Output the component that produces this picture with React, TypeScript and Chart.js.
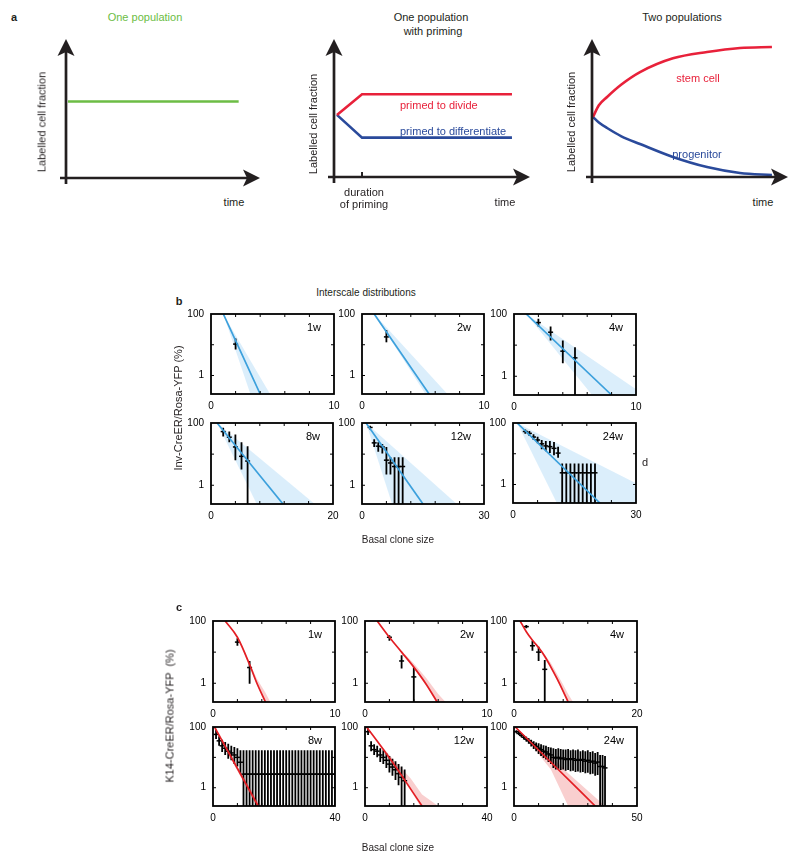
import React, { useEffect, useRef } from "react";
import { Chart, registerables } from "chart.js";

Chart.register(...registerables);

const FONT = '"Liberation Sans", Arial, Helvetica, sans-serif';
const INK = "#231f20";

// ---------- Panel a (schematics) ----------
const A1_ONE_POPULATION = [[0.1, 5.5], [8.9, 5.5]];
const A2_PRIMED_DIVIDE = [[0.15, 4.5], [1.43, 6.0], [9.08, 6.0]];
const A2_PRIMED_DIFFERENTIATE = [[0.15, 4.5], [1.43, 2.85], [9.08, 2.85]];
const A2_PRIMING_END = 1.43;
const A3_STEM_CELL = [[0.05, 4.35], [0.35, 5.2], [0.77, 5.8], [1.5, 6.7], [2.45, 7.6], [4.13, 8.6], [5.87, 9.06], [7.55, 9.35], [9.18, 9.42]];
const A3_PROGENITOR = [[0.05, 4.35], [0.35, 3.95], [0.77, 3.55], [1.5, 2.95], [2.45, 2.39], [4.13, 1.45], [5.87, 0.72], [7.55, 0.29], [9.18, 0.14]];

// ---------- Panel b: Inv-CreER/Rosa-YFP (x = clone size, y = %) ----------
// points: [clone size, value, lower, upper]; band: [clone size, lower, upper]
const B1W_LINE = [[1, 100], [4, 0.25]];
const B1W_BAND = [[1, 100, 100], [3.2, 0.25, 3.1], [4.8, 0.01, 0.25]];
const B1W_POINTS = [[2, 10.5, 7, 16]];

const B2W_LINE = [[1, 100], [5.5, 0.25]];
const B2W_BAND = [[1, 100, 100], [5.2, 0.25, 1.5], [7, 0.01, 0.25]];
const B2W_POINTS = [[2, 18, 12, 30]];

const B4W_LINE = [[1, 100], [8, 0.25]];
const B4W_BAND = [[1, 100, 100], [6.4, 0.25, 3.5], [10, 0.01, 0.38]];
const B4W_POINTS = [[2, 53, 40, 70], [3, 26, 14, 40], [4, 6.4, 2.6, 14], [5, 3.9, 0.01, 8.5]];

const B8W_LINE = [[1, 100], [11.8, 0.25]];
const B8W_BAND = [[1, 100, 100], [7.5, 0.25, 8.8], [17, 0.01, 0.25]];
const B8W_POINTS = [[2, 53, 37, 70], [3, 35, 24, 53], [4, 17, 6.4, 43], [5, 8.5, 3.2, 24], [6, 6, 0.01, 18]];

const B12W_LINE = [[1, 100], [15, 0.25]];
const B12W_BAND = [[1, 100, 100], [7.4, 0.25, 18], [23.3, 0.01, 0.25]];
const B12W_POINTS = [
  [2, 72, 62, 82], [3, 23, 17, 30], [4, 18, 12, 24], [5, 17, 10.5, 21], [6, 6.4, 2.2, 17],
  [7, 5.2, 2.2, 8], [8, 4, 0.01, 7.9], [9, 4, 0.01, 7.9], [10, 4, 0.01, 7.9],
];

const B24W_LINE = [[1, 100], [21.2, 0.25]];
const B24W_BAND = [[1, 100, 100], [10.7, 0.25, 22], [30, 0.01, 1.1]];
const B24W_POINTS = [
  [3, 53, 45, 62], [4, 46, 38, 55], [5, 35, 28, 43], [6, 28, 22, 36], [7, 21, 14, 28],
  [8, 18, 12, 26], [9, 17, 10.5, 26], [10, 15, 9, 24], [11, 10.5, 7.4, 17],
  [12, 2.4, 0.01, 4.8], [13, 2.4, 0.01, 4.8], [14, 2.4, 0.01, 4.8], [15, 2.4, 0.01, 4.8],
  [16, 2.4, 0.01, 4.8], [17, 2.4, 0.01, 4.8], [18, 2.4, 0.01, 4.8], [19, 2.4, 0.01, 4.8],
  [20, 2.4, 0.01, 4.8],
];

// ---------- Panel c: K14-CreER/Rosa-YFP ----------
const C1W_LINE = [[1, 100], [2, 30], [3, 4], [3.6, 1], [4.3, 0.25]];
const C1W_BAND = [[2.5, 10, 12], [3.6, 0.9, 1.4], [4.3, 0.25, 0.5], [4.7, 0.02, 0.25]];
const C1W_POINTS = [[2, 21, 16, 28], [3, 3.2, 0.96, 5.2]];

const C2W_LINE = [[1, 100], [2, 30], [3, 10], [4, 3.3], [5, 0.95], [6, 0.22]];
const C2W_BAND = [[3, 9.5, 11], [4, 3.1, 4.3], [5, 0.9, 1.5], [6, 0.2, 0.45], [6.6, 0.02, 0.25]];
const C2W_POINTS = [[2, 30, 23, 35], [3, 5.2, 3, 8], [4, 1.6, 0.01, 3.2]];

const C4W_LINE = [[1, 100], [2, 45], [3, 24], [4, 14], [5, 7.4], [6, 3.3], [7, 1.4], [8, 0.55], [8.8, 0.25]];
const C4W_BAND = [[4, 13, 15], [6, 3, 4.5], [8, 0.5, 0.9], [8.8, 0.22, 0.45], [9.6, 0.02, 0.25]];
const C4W_POINTS = [[2, 66, 58, 75], [3, 16, 11, 23], [4, 10, 5.2, 15], [5, 2.8, 0.01, 5.6]];

const C8W_LINE = [[0.5, 100], [14.8, 0.25]];
const C8W_BAND = [[5, 13, 16], [14.8, 0.2, 0.35], [16, 0.02, 0.25]];
const C8W_POINTS = [
  [1, 57, 40, 80], [2, 35, 24, 50], [3, 24, 15, 38], [4, 20, 12, 32], [5, 16, 9, 28],
  [6, 14, 8, 24], [7, 12, 6, 22], [8, 10, 5, 20], [9, 6.9, 3, 17],
  [10, 2.8, 0.01, 17], [11, 2.8, 0.01, 17], [12, 2.8, 0.01, 17], [13, 2.8, 0.01, 17],
  [14, 2.8, 0.01, 17], [15, 2.8, 0.01, 17], [16, 2.8, 0.01, 17], [17, 2.8, 0.01, 17],
  [18, 2.8, 0.01, 17], [19, 2.8, 0.01, 17], [20, 2.8, 0.01, 17], [21, 2.8, 0.01, 17],
  [22, 2.8, 0.01, 17], [23, 2.8, 0.01, 17], [24, 2.8, 0.01, 17], [25, 2.8, 0.01, 17],
  [26, 2.8, 0.01, 17], [27, 2.8, 0.01, 17], [28, 2.8, 0.01, 17], [29, 2.8, 0.01, 17],
  [30, 2.8, 0.01, 17], [31, 2.8, 0.01, 17], [32, 2.8, 0.01, 17], [33, 2.8, 0.01, 17],
  [34, 2.8, 0.01, 17], [35, 2.8, 0.01, 17], [36, 2.8, 0.01, 17], [37, 2.8, 0.01, 17],
  [38, 2.8, 0.01, 17], [39, 2.8, 0.01, 17], [40, 2.8, 0.01, 17],
];

const C12W_LINE = [[0.5, 100], [5, 25], [10, 5], [15, 0.9], [18.7, 0.25]];
const C12W_BAND = [[5, 24, 27], [10, 4.5, 7], [15, 0.8, 2], [18.7, 0.2, 0.6], [24, 0.01, 0.25]];
const C12W_POINTS = [
  [1, 70, 55, 90], [2, 24, 16, 34], [3, 18, 12, 27], [4, 16, 10, 24], [5, 12, 7, 20],
  [6, 10, 6, 17], [7, 8, 4.5, 14], [8, 6, 3.2, 11], [9, 4.8, 2.5, 9], [10, 3.9, 1.8, 7.5],
  [11, 2.9, 1.2, 6], [12, 2.2, 0.01, 5], [13, 1.7, 0.01, 4],
];

const C24W_LINE = [[0.5, 100], [15, 6.9], [33, 0.25]];
const C24W_BAND = [[5, 40, 47], [15, 4, 11], [22, 0.25, 3], [37, 0.01, 0.25]];
const C24W_POINTS = [
  [1, 70, 62, 78], [2, 61, 54, 69], [3, 53, 46, 61], [4, 46, 39, 54], [5, 40, 33, 48],
  [6, 35, 28, 43], [7, 30, 23, 38], [8, 26, 19, 34], [9, 23, 16, 31], [10, 20, 13, 29],
  [11, 18, 11, 27], [12, 16, 9.5, 25], [13, 15, 8.5, 24], [14, 13, 7, 22], [15, 12, 6, 21],
  [16, 10, 4.5, 20], [17, 9.5, 4, 19], [18, 10, 4.2, 20], [19, 9, 3.8, 19], [20, 9.5, 4, 18],
  [21, 8.5, 3.6, 18], [22, 9, 3.8, 19], [23, 8.5, 3.5, 17], [24, 9, 3.6, 18], [25, 8, 3.3, 17],
  [26, 8.5, 3.4, 18], [27, 8, 3.2, 16], [28, 8.5, 3.3, 17], [29, 7.5, 3, 16], [30, 8, 3.1, 17],
  [31, 7, 2.8, 15], [32, 7.5, 2.9, 16], [33, 6.5, 2.5, 14], [34, 7, 2.6, 15],
  [35, 5, 0.01, 12], [36, 5, 0.01, 12], [37, 4.5, 0.01, 11],
];

const Y_MIN = 0.25;
const Y_MAX = 100;
const Y_TICKS = [1, 100];

const GREEN = "#6cbd45";
const RED_A = "#e8213a";
const BLUE_A = "#2a4a9b";
const B_LINE = "#3ca0dc";
const B_BAND = "rgba(170, 215, 245, 0.42)";
const C_LINE = "#e31e24";
const C_BAND = "rgba(240, 130, 130, 0.38)";

// ---------- plugins ----------
const boxPlugin = {
  id: "box",
  afterDatasetsDraw(chart: any, _args: any, opts: any) {
    const { ctx, chartArea: a, scales } = chart;
    ctx.save();
    ctx.strokeStyle = "#000";
    ctx.lineWidth = 1;
    ctx.beginPath();
    for (let v = opts.step; v < opts.xMax - 1e-9; v += opts.step) {
      const px = scales.x.getPixelForValue(v);
      ctx.moveTo(px, a.bottom);
      ctx.lineTo(px, a.bottom - 3);
      ctx.moveTo(px, a.top);
      ctx.lineTo(px, a.top + 3);
    }
    for (const v of [1, 10]) {
      const py = scales.y.getPixelForValue(v);
      ctx.moveTo(a.left, py);
      ctx.lineTo(a.left + 3, py);
      ctx.moveTo(a.right, py);
      ctx.lineTo(a.right - 3, py);
    }
    ctx.stroke();
    ctx.lineWidth = 1.8;
    ctx.strokeRect(a.left, a.top, a.right - a.left, a.bottom - a.top);
    ctx.fillStyle = "#000";
    ctx.font = `11px ${FONT}`;
    ctx.textAlign = "right";
    ctx.textBaseline = "middle";
    ctx.fillText(opts.label, a.right - 13, a.top + 14);
    ctx.restore();
  },
};

function arrowHead(ctx: CanvasRenderingContext2D, x: number, y: number, dir: "right" | "up") {
  ctx.beginPath();
  if (dir === "right") {
    ctx.moveTo(x, y);
    ctx.lineTo(x - 17, y - 8.5);
    ctx.lineTo(x - 13, y);
    ctx.lineTo(x - 17, y + 8.5);
  } else {
    ctx.moveTo(x, y);
    ctx.lineTo(x - 8.5, y + 17);
    ctx.lineTo(x, y + 13);
    ctx.lineTo(x + 8.5, y + 17);
  }
  ctx.closePath();
  ctx.fill();
}

const arrowsPlugin = {
  id: "arrows",
  afterDatasetsDraw(chart: any, _args: any, opts: any) {
    const { ctx, chartArea: a } = chart;
    ctx.save();
    ctx.strokeStyle = INK;
    ctx.fillStyle = INK;
    ctx.lineWidth = 2.7;
    ctx.beginPath();
    ctx.moveTo(a.left - 6, a.bottom);
    ctx.lineTo(a.right - 10, a.bottom);
    ctx.moveTo(a.left, a.bottom + 6);
    ctx.lineTo(a.left, a.top + 10);
    ctx.stroke();
    arrowHead(ctx, a.right, a.bottom, "right");
    arrowHead(ctx, a.left, a.top, "up");
    if (opts.markX != null) {
      const px = chart.scales.x.getPixelForValue(opts.markX);
      ctx.lineWidth = 2;
      ctx.beginPath();
      ctx.moveTo(px, a.bottom);
      ctx.lineTo(px, a.bottom - 5);
      ctx.stroke();
    }
    ctx.restore();
  },
};

const toXY = (arr: number[][]) => arr.map(([x, y]) => ({ x, y }));

// ---------- schematic plot ----------
function Schematic(props: {
  originX: number; originY: number; tipX: number; tipY: number;
  series: { data: number[][]; color: string }[]; markX?: number; curved?: boolean;
}) {
  const ref = useRef<HTMLCanvasElement>(null);
  const { originX, originY, tipX, tipY } = props;
  const W = tipX - originX + 50;
  const H = originY - tipY + 30;
  useEffect(() => {
    const chart = new Chart(ref.current!, {
      type: "line",
      data: {
        datasets: props.series.map((s) => ({
          data: toXY(s.data),
          borderColor: s.color,
          borderWidth: 2.6,
          pointRadius: 0,
          fill: false,
          tension: 0,
          cubicInterpolationMode: props.curved ? "monotone" : "default",
          borderJoinStyle: "miter",
        })),
      },
      options: {
        responsive: false,
        animation: false,
        events: [],
        layout: { padding: { left: 30, top: 15, right: 20, bottom: 15 } },
        plugins: {
          legend: { display: false },
          tooltip: { enabled: false },
          arrows: { markX: props.markX ?? null },
        } as any,
        scales: {
          x: { type: "linear", min: 0, max: 10, display: false },
          y: { type: "linear", min: 0, max: 10, display: false },
        },
      },
      plugins: [arrowsPlugin],
    } as any);
    return () => chart.destroy();
  }, []);
  return (
    <canvas
      ref={ref}
      width={W}
      height={H}
      style={{ position: "absolute", left: originX - 30, top: tipY - 15, width: W, height: H }}
    />
  );
}

// ---------- log plot ----------
function LogPlot(props: {
  box: number[]; xMax: number; label: string; line: number[][]; band: number[][];
  points: number[][]; lineColor: string; bandColor: string;
}) {
  const ref = useRef<HTMLCanvasElement>(null);
  const [l, r, t, b] = props.box;
  const W = r - l + 52;
  const H = b - t + 30;
  useEffect(() => {
    const bars: any[] = [];
    props.points.forEach(([x, , lo, hi]) => {
      bars.push({ x, y: lo }, { x, y: hi }, { x, y: null });
    });
    const xMax = props.xMax;
    const chart = new Chart(ref.current!, {
      type: "line",
      data: {
        datasets: [
          {
            data: toXY(props.line),
            borderColor: props.lineColor,
            borderWidth: 1.7,
            pointRadius: 0,
            fill: false,
            cubicInterpolationMode: "monotone",
          },
          {
            data: props.points.map(([x, y]) => ({ x, y })),
            showLine: false,
            pointStyle: "line",
            pointRadius: 2.5,
            pointBorderWidth: 1.5,
            pointBorderColor: "#000",
            pointBackgroundColor: "#000",
          },
          {
            data: bars,
            borderColor: "#000",
            borderWidth: 1.8,
            pointRadius: 0,
            spanGaps: false,
            fill: false,
          },
          {
            data: props.band.map(([x, , hi]) => ({ x, y: hi })),
            borderWidth: 0,
            borderColor: "rgba(0,0,0,0)",
            pointRadius: 0,
            fill: "+1",
            backgroundColor: props.bandColor,
          },
          {
            data: props.band.map(([x, lo]) => ({ x, y: lo })),
            borderWidth: 0,
            borderColor: "rgba(0,0,0,0)",
            pointRadius: 0,
            fill: false,
          },
        ],
      },
      options: {
        responsive: false,
        animation: false,
        events: [],
        layout: { padding: { left: 0, top: 8, right: 12, bottom: 0 } },
        plugins: {
          legend: { display: false },
          tooltip: { enabled: false },
          filler: { drawTime: "beforeDatasetsDraw" },
          box: { label: props.label, step: xMax / 5, xMax },
        } as any,
        scales: {
          x: {
            type: "linear",
            min: 0,
            max: xMax,
            grid: { display: false, drawTicks: false },
            border: { display: false },
            ticks: {
              color: "#000",
              font: { size: 10, family: FONT },
              padding: 6,
              maxRotation: 0,
              autoSkip: false,
              callback: (v: any) => String(v),
            },
            afterBuildTicks: (s: any) => {
              s.ticks = [{ value: 0 }, { value: xMax }];
            },
            afterFit: (s: any) => {
              s.height = 22;
            },
          },
          y: {
            type: "logarithmic",
            min: Y_MIN,
            max: Y_MAX,
            grid: { display: false, drawTicks: false },
            border: { display: false },
            ticks: {
              color: "#000",
              font: { size: 10, family: FONT },
              padding: 7,
              autoSkip: false,
              callback: (v: any) => (Y_TICKS.includes(v) ? String(v) : ""),
            },
            afterBuildTicks: (s: any) => {
              s.ticks = Y_TICKS.map((value) => ({ value }));
            },
            afterFit: (s: any) => {
              s.width = 40;
            },
          },
        },
      },
      plugins: [boxPlugin],
    } as any);
    return () => chart.destroy();
  }, []);
  return (
    <canvas
      ref={ref}
      width={W}
      height={H}
      style={{ position: "absolute", left: l - 40, top: t - 8, width: W, height: H }}
    />
  );
}

function Label(props: {
  x: number; y: number; text: string; color?: string; size?: number; bold?: boolean;
  rotate?: boolean; align?: "center" | "left";
}) {
  const { x, y, text, color = INK, size = 11, bold = false, rotate = false, align = "center" } = props;
  const transform =
    align === "center"
      ? `translate(-50%, -50%)${rotate ? " rotate(-90deg)" : ""}`
      : "translate(0, -50%)";
  return (
    <div
      style={{
        position: "absolute",
        left: x,
        top: y,
        transform,
        fontFamily: FONT,
        fontSize: size,
        fontWeight: bold ? "bold" : "normal",
        color,
        whiteSpace: "pre",
        lineHeight: 1,
      }}
    >
      {text}
    </div>
  );
}

const B_PLOTS = [
  { box: [211, 334, 309, 394], xMax: 10, label: "1w", line: B1W_LINE, band: B1W_BAND, points: B1W_POINTS },
  { box: [362, 484, 309, 394], xMax: 10, label: "2w", line: B2W_LINE, band: B2W_BAND, points: B2W_POINTS },
  { box: [514, 636, 309, 395], xMax: 10, label: "4w", line: B4W_LINE, band: B4W_BAND, points: B4W_POINTS },
  { box: [211, 333, 418, 504], xMax: 20, label: "8w", line: B8W_LINE, band: B8W_BAND, points: B8W_POINTS },
  { box: [362, 484, 418, 504], xMax: 30, label: "12w", line: B12W_LINE, band: B12W_BAND, points: B12W_POINTS },
  { box: [513, 636, 418, 503], xMax: 30, label: "24w", line: B24W_LINE, band: B24W_BAND, points: B24W_POINTS },
];

const C_PLOTS = [
  { box: [213, 335, 616, 702], xMax: 10, label: "1w", line: C1W_LINE, band: C1W_BAND, points: C1W_POINTS },
  { box: [365, 487, 616, 702], xMax: 10, label: "2w", line: C2W_LINE, band: C2W_BAND, points: C2W_POINTS },
  { box: [514, 637, 616, 702], xMax: 20, label: "4w", line: C4W_LINE, band: C4W_BAND, points: C4W_POINTS },
  { box: [213, 335, 722, 806], xMax: 40, label: "8w", line: C8W_LINE, band: C8W_BAND, points: C8W_POINTS },
  { box: [365, 487, 722, 806], xMax: 40, label: "12w", line: C12W_LINE, band: C12W_BAND, points: C12W_POINTS },
  { box: [514, 637, 722, 806], xMax: 50, label: "24w", line: C24W_LINE, band: C24W_BAND, points: C24W_POINTS },
];

export default function App() {
  return (
    <div
      style={{
        position: "absolute",
        left: 0,
        top: 0,
        width: 800,
        height: 862,
        background: "#fff",
        overflow: "hidden",
      }}
    >
      {/* Panel a */}
      <Label x={14} y={17} text="a" bold size={11} />
      <Label x={145} y={17} text="One population" color={GREEN} />
      <Label x={431} y={17} text="One population" />
      <Label x={433} y={31} text="with priming" />
      <Label x={682} y={17} text="Two populations" />

      <Schematic originX={66} originY={178} tipX={260} tipY={39} series={[{ data: A1_ONE_POPULATION, color: GREEN }]} />
      <Schematic
        originX={334}
        originY={177}
        tipX={530}
        tipY={39}
        markX={A2_PRIMING_END}
        series={[
          { data: A2_PRIMED_DIVIDE, color: RED_A },
          { data: A2_PRIMED_DIFFERENTIATE, color: BLUE_A },
        ]}
      />
      <Schematic
        originX={592}
        originY={177}
        tipX={788}
        tipY={39}
        curved
        series={[
          { data: A3_STEM_CELL, color: RED_A },
          { data: A3_PROGENITOR, color: BLUE_A },
        ]}
      />

      <Label x={42} y={122} text="Labelled cell fraction" rotate />
      <Label x={313} y={124} text="Labelled cell fraction" rotate />
      <Label x={571} y={122} text="Labelled cell fraction" rotate />
      <Label x={234} y={202} text="time" />
      <Label x={505} y={202} text="time" />
      <Label x={763} y={202} text="time" />
      <Label x={400} y={105} text="primed to divide" color={RED_A} align="left" />
      <Label x={400} y={131} text="primed to differentiate" color={BLUE_A} align="left" />
      <Label x={364} y={192} text="duration" />
      <Label x={364} y={204} text="of priming" />
      <Label x={698} y={78} text="stem cell" color={RED_A} />
      <Label x={697} y={154} text="progenitor" color={BLUE_A} />

      {/* Panel b */}
      <Label x={179} y={301} text="b" bold />
      <Label x={366} y={293} text="Interscale distributions" size={10} />
      {B_PLOTS.map((p, i) => (
        <LogPlot key={"b" + i} {...p} lineColor={B_LINE} bandColor={B_BAND} />
      ))}
      <Label x={178} y={408} text="Inv-CreER/Rosa-YFP (%)" rotate />
      <Label x={645} y={462} text="d" />
      <Label x={398} y={540} text="Basal clone size" size={10} />

      {/* Panel c */}
      <Label x={179} y={607} text="c" bold />
      {C_PLOTS.map((p, i) => (
        <LogPlot key={"c" + i} {...p} lineColor={C_LINE} bandColor={C_BAND} />
      ))}
      <Label x={170} y={716} text="K14-CreER/Rosa-YFP  (%)" rotate />
      <Label x={398} y={848} text="Basal clone size" size={10} />
    </div>
  );
}
